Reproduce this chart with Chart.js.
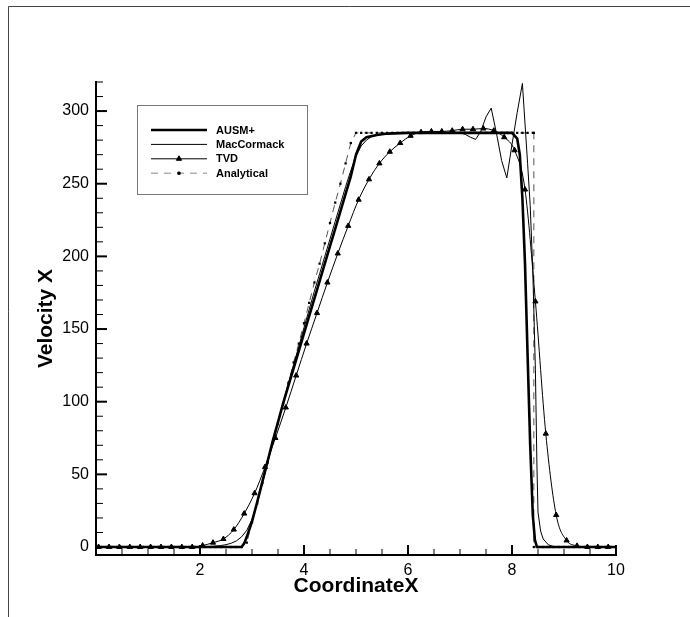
<!DOCTYPE html>
<html>
<head>
<meta charset="utf-8">
<script src="https://cdn.jsdelivr.net/npm/chart.js@4.4.1/dist/chart.umd.min.js"></script>
<style>
  html, body { margin: 0; background: #fff; }
  canvas { display: block; }
</style>
</head>
<body>
<canvas id="chart" width="690" height="617"></canvas>
<script>
// axis ticks
const xTickLabels = [2, 4, 6, 8, 10];
const yTickLabels = [0, 50, 100, 150, 200, 250, 300];
const xMajorMarks = [0, 2, 4, 6, 8, 10];
const xMinorMarks = [0.5, 1, 1.5, 2.5, 3, 3.5, 4.5, 5, 5.5, 6.5, 7, 7.5, 8.5, 9, 9.5];
const yMinorMarks = [10, 20, 30, 40, 60, 70, 80, 90, 110, 120, 130, 140, 160, 170, 180, 190,
                     210, 220, 230, 240, 260, 270, 280, 290, 310, 320];

// AUSM+ (thick line)
const ausmX = [0, 2.8, 2.85, 2.9, 3.0, 3.1, 3.2, 3.3, 3.4, 3.5, 3.6, 3.7, 3.8, 3.9,
               4.0, 4.1, 4.2, 4.3, 4.4, 4.5, 4.6, 4.7, 4.8, 4.9, 5.0, 5.1, 5.2, 5.4, 5.6,
               6.0, 7.0, 8.0, 8.1, 8.15, 8.2, 8.25, 8.3, 8.35, 8.4, 8.44, 8.48, 10];
const ausmY = [0, 0, 2.5, 7, 17.5, 31, 45, 59, 73, 86, 99, 111, 123, 135,
               147, 159, 171, 183, 195, 207, 219, 231, 243, 255, 270, 279, 282, 283.5, 284.5,
               285, 285, 285, 281, 270, 240, 195, 132, 70, 22, 5, 0, 0];

// MacCormack (thin line)
const macX = [0, 2.0, 2.2, 2.4, 2.5, 2.6, 2.7, 2.8, 2.9, 3.0, 3.1, 3.2, 3.3, 3.4, 3.5, 3.6,
              3.7, 3.8, 3.9, 4.0, 4.1, 4.2, 4.3, 4.4, 4.5, 4.6, 4.7, 4.8, 4.9, 5.0, 5.1,
              5.2, 5.3, 5.5, 5.8, 6.5, 7.0, 7.1, 7.2, 7.3, 7.4, 7.5, 7.6, 7.7, 7.8, 7.9,
              8.0, 8.1, 8.2, 8.3, 8.35, 8.4, 8.45, 8.48, 8.5, 8.55, 8.6, 8.7, 8.8, 8.9, 10];
const macY = [0, 0, 0.3, 1, 1.6, 2.6, 4.2, 7, 11.5, 19, 30, 44, 58, 72, 86, 99.5,
              112.5, 125.5, 138, 151, 163.5, 176, 188, 200, 212, 224, 236, 248, 259, 269, 276,
              280, 282.5, 284, 285, 285.5, 285, 284, 282, 280.5, 286, 296, 302, 285, 266, 254,
              277, 299, 319, 264, 235, 190, 122, 55, 24, 11, 5.5, 1.5, 0.3, 0, 0];

// TVD (thin line with triangles)
const tvdX = [0.05, 0.25, 0.45, 0.65, 0.85, 1.05, 1.25, 1.45, 1.65, 1.85,
              2.05, 2.25, 2.45, 2.65, 2.85, 3.05, 3.25, 3.45, 3.65, 3.85,
              4.05, 4.25, 4.45, 4.65, 4.85, 5.05, 5.25, 5.45, 5.65, 5.85,
              6.05, 6.25, 6.45, 6.65, 6.85, 7.05, 7.25, 7.45, 7.65, 7.85,
              8.05, 8.25, 8.45, 8.65, 8.85, 9.05, 9.25, 9.45, 9.65, 9.85];
const tvdY = [0, 0, 0, 0, 0, 0, 0, 0, 0, 0,
              1, 3, 5.5, 12, 23, 37, 55, 75, 96, 118,
              140, 161, 182, 202, 221, 239, 253, 264, 272, 278,
              283, 285.5, 286, 286, 286.5, 287.5, 287.5, 288, 286.5, 282,
              273, 246, 169, 78, 22, 4.5, 0.8, 0, 0, 0];

// Analytical (dashed with squares)
const anaX = [0, 0.1, 0.2, 0.3, 0.4, 0.5, 0.6, 0.7, 0.8, 0.9,
              1, 1.1, 1.2, 1.3, 1.4, 1.5, 1.6, 1.7, 1.8, 1.9,
              2, 2.1, 2.2, 2.3, 2.4, 2.5, 2.6, 2.7, 2.8, 2.9,
              3, 3.1, 3.2, 3.3, 3.4, 3.5, 3.6, 3.7, 3.8, 3.9,
              4, 4.1, 4.2, 4.3, 4.4, 4.5, 4.6, 4.7, 4.8, 4.9,
              5, 5.1, 5.2, 5.3, 5.4, 5.5, 5.6, 5.7, 5.8, 5.9,
              6, 6.1, 6.2, 6.3, 6.4, 6.5, 6.6, 6.7, 6.8, 6.9,
              7, 7.1, 7.2, 7.3, 7.4, 7.5, 7.6, 7.7, 7.8, 7.9,
              8, 8.1, 8.2, 8.3, 8.4, 8.42, 8.42, 8.5, 8.6, 8.7, 8.8, 8.9,
              9, 9.1, 9.2, 9.3, 9.4, 9.5, 9.6, 9.7, 9.8, 9.9, 10];
const anaY = [0, 0, 0, 0, 0, 0, 0, 0, 0, 0,
              0, 0, 0, 0, 0, 0, 0, 0, 0, 0,
              0, 0, 0, 0, 0, 0, 0, 0, 0, 3,
              17, 30, 44, 58, 72, 85, 99, 113, 127, 140,
              154, 168, 182, 195, 209, 223, 237, 250, 264, 278,
              285, 285, 285, 285, 285, 285, 285, 285, 285, 285,
              285, 285, 285, 285, 285, 285, 285, 285, 285, 285,
              285, 285, 285, 285, 285, 285, 285, 285, 285, 285,
              285, 285, 285, 285, 285, 285, 0, 0, 0, 0, 0, 0,
              0, 0, 0, 0, 0, 0, 0, 0, 0, 0, 0];

const FONT = "'Liberation Sans', Arial, Helvetica, sans-serif";
const pts = (xs, ys) => xs.map((x, i) => ({ x, y: ys[i] }));

// outer frame, only top and left edges show in the picture
const frame = {
  id: 'frame',
  beforeDraw(chart) {
    const ctx = chart.ctx;
    ctx.save();
    ctx.fillStyle = '#fff';
    ctx.fillRect(0, 0, chart.width, chart.height);
    ctx.strokeStyle = '#444';
    ctx.lineWidth = 1;
    ctx.beginPath();
    ctx.moveTo(8.5, chart.height);
    ctx.lineTo(8.5, 6.5);
    ctx.lineTo(chart.width, 6.5);
    ctx.stroke();
    ctx.restore();
  }
};

// inward tick marks
const tickMarks = {
  id: 'tickMarks',
  afterDatasetsDraw(chart) {
    const { ctx, chartArea: a, scales: { x, y } } = chart;
    const seg = (x1, y1, x2, y2, w) => {
      ctx.lineWidth = w;
      ctx.beginPath(); ctx.moveTo(x1, y1); ctx.lineTo(x2, y2); ctx.stroke();
    };
    ctx.save();
    ctx.strokeStyle = '#000';
    xMajorMarks.forEach(v => { const p = x.getPixelForValue(v); seg(p, a.bottom, p, a.bottom - 10, 2); });
    xMinorMarks.forEach(v => { const p = x.getPixelForValue(v); seg(p, a.bottom, p, a.bottom - 6, 1); });
    yTickLabels.forEach(v => { const p = y.getPixelForValue(v); seg(a.left, p, a.left + 11, p, 2); });
    yMinorMarks.forEach(v => { const p = y.getPixelForValue(v); seg(a.left, p, a.left + 7, p, 1); });
    ctx.restore();
  }
};

// boxed legend inside the plot
const boxLegend = {
  id: 'boxLegend',
  afterDraw(chart) {
    const ctx = chart.ctx;
    ctx.save();
    ctx.fillStyle = '#fff';
    ctx.fillRect(137.5, 105.5, 170, 89);
    ctx.strokeStyle = '#777';
    ctx.lineWidth = 1;
    ctx.strokeRect(137.5, 105.5, 170, 89);
    chart.data.datasets.forEach((ds, i) => {
      const yy = 130 + i * 14.4;
      ctx.strokeStyle = ds.legendColor || ds.borderColor;
      ctx.lineWidth = ds.borderWidth;
      ctx.setLineDash(ds.borderDash || []);
      ctx.beginPath(); ctx.moveTo(151, yy); ctx.lineTo(207, yy); ctx.stroke();
      ctx.setLineDash([]);
      if (ds.pointRadius > 0) {
        ctx.fillStyle = '#000'; ctx.strokeStyle = '#000'; ctx.lineWidth = 1;
        Chart.helpers.drawPoint(ctx, { pointStyle: ds.pointStyle, radius: ds.pointRadius, rotation: 0, borderWidth: 1 }, 179, yy);
      }
      ctx.fillStyle = '#000';
      ctx.font = 'bold 11px ' + FONT;
      ctx.textBaseline = 'middle';
      ctx.fillText(ds.label, 216, yy + 0.5);
    });
    ctx.restore();
  }
};

Chart.defaults.font.family = FONT;
Chart.defaults.color = '#000';

new Chart(document.getElementById('chart'), {
  type: 'line',
  data: {
    datasets: [
      { label: 'AUSM+', data: pts(ausmX, ausmY), borderColor: '#000', borderWidth: 2.6, pointRadius: 0 },
      { label: 'MacCormack', data: pts(macX, macY), borderColor: '#000', borderWidth: 1, pointRadius: 0 },
      { label: 'TVD', data: pts(tvdX, tvdY), borderColor: '#000', borderWidth: 1, cubicInterpolationMode: 'monotone',
        pointStyle: 'triangle', pointRadius: 3, pointBackgroundColor: '#000', pointBorderColor: '#000', pointBorderWidth: 1 },
      { label: 'Analytical', data: pts(anaX, anaY), borderColor: '#555', legendColor: '#888', borderWidth: 1, borderDash: [7, 6],
        pointStyle: 'rect', pointRadius: 1.6, pointBackgroundColor: '#000', pointBorderColor: '#000', pointBorderWidth: 0 }
    ]
  },
  options: {
    responsive: false,
    animation: false,
    devicePixelRatio: 1,
    layout: { padding: { left: 0, right: 74, top: 82, bottom: 0 } },
    plugins: { legend: { display: false }, tooltip: { enabled: false } },
    scales: {
      x: {
        type: 'linear', min: 0, max: 10,
        afterBuildTicks: s => { s.ticks = xTickLabels.map(v => ({ value: v })); },
        afterFit: s => { s.height = 62; },
        grid: { display: false, drawTicks: false },
        border: { display: true, color: '#000', width: 2 },
        ticks: { font: { size: 16 }, padding: 6, maxRotation: 0 },
        title: { display: true, text: 'CoordinateX', font: { size: 21, weight: 'bold' }, padding: { top: 0, bottom: 18 } }
      },
      y: {
        type: 'linear', min: -5.5, max: 320,
        afterBuildTicks: s => { s.ticks = yTickLabels.map(v => ({ value: v })); },
        afterFit: s => { s.width = 96; },
        grid: { display: false, drawTicks: false },
        border: { display: true, color: '#000', width: 2 },
        ticks: { font: { size: 16 }, padding: 7 },
        title: { display: true, text: 'Velocity X', font: { size: 21, weight: 'bold' }, padding: { top: 34, bottom: 0 } }
      }
    }
  },
  plugins: [frame, tickMarks, boxLegend]
});
</script>
</body>
</html>
